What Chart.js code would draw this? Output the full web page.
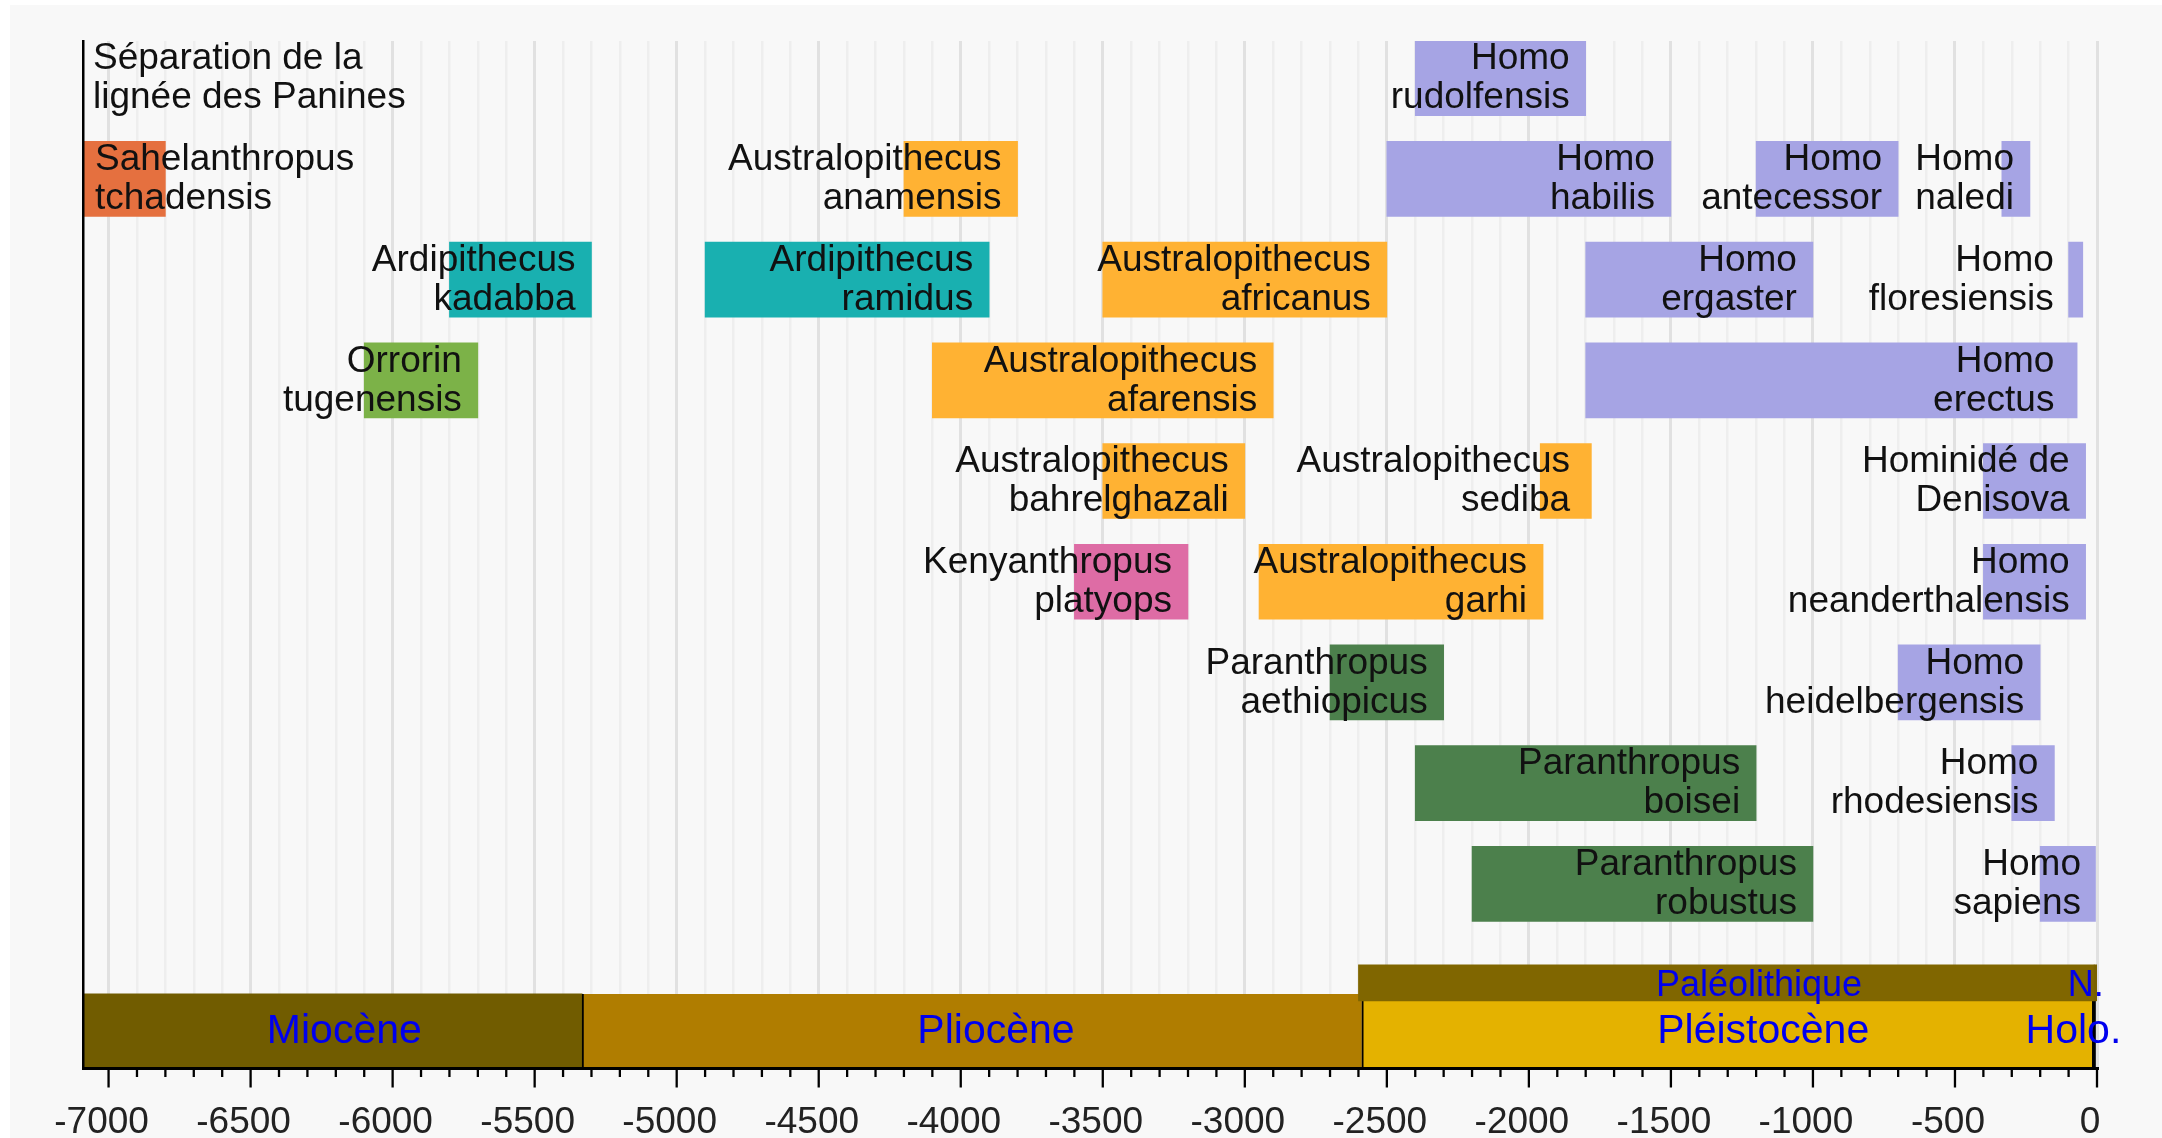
<!DOCTYPE html>
<html lang="fr">
<head>
<meta charset="utf-8">
<title>Chronologie des hominines</title>
<script src="https://cdn.jsdelivr.net/npm/chart.js@4.4.1/dist/chart.umd.min.js"></script>
<style>
  html, body { margin: 0; padding: 0; background: #fff; }
  canvas { display: block; }
</style>
</head>
<body>
<canvas id="frise" width="2162" height="1138"></canvas>
<script>
// ============================================================
// Frise des hominines — valeurs en milliers d'années (ka)
// ============================================================

// ===== Espèces : nom (2 lignes), ligne, début, fin, genre =====
const speciesNames = [
  ['Homo', 'rudolfensis'],
  ['Sahelanthropus', 'tchadensis'], ['Australopithecus', 'anamensis'], ['Homo', 'habilis'], ['Homo', 'antecessor'], ['Homo', 'naledi'],
  ['Ardipithecus', 'kadabba'], ['Ardipithecus', 'ramidus'], ['Australopithecus', 'africanus'], ['Homo', 'ergaster'], ['Homo', 'floresiensis'],
  ['Orrorin', 'tugenensis'], ['Australopithecus', 'afarensis'], ['Homo', 'erectus'],
  ['Australopithecus', 'bahrelghazali'], ['Australopithecus', 'sediba'], ['Hominidé de', 'Denisova'],
  ['Kenyanthropus', 'platyops'], ['Australopithecus', 'garhi'], ['Homo', 'neanderthalensis'],
  ['Paranthropus', 'aethiopicus'], ['Homo', 'heidelbergensis'],
  ['Paranthropus', 'boisei'], ['Homo', 'rhodesiensis'],
  ['Paranthropus', 'robustus'], ['Homo', 'sapiens']
];
const speciesRow = [0, 1, 1, 1, 1, 1, 2, 2, 2, 2, 2, 3, 3, 3, 4, 4, 4, 5, 5, 5, 6, 6, 7, 7, 8, 8];
const speciesStart = [-2400, -7090, -4200, -2500, -1200, -335, -5800, -4900, -3500, -1800, -100,
  -6100, -4100, -1800, -3500, -1960, -400, -3600, -2950, -400, -2700, -700, -2400, -300, -2200, -200];
const speciesEnd = [-1800, -6800, -3800, -1500, -700, -236, -5300, -3900, -2500, -1000, -50,
  -5700, -2900, -70, -3000, -1780, -40, -3200, -1950, -40, -2300, -200, -1200, -150, -1000, 0];
const speciesGenus = ['Homo', 'Sahelanthropus', 'Australopithecus', 'Homo', 'Homo', 'Homo',
  'Ardipithecus', 'Ardipithecus', 'Australopithecus', 'Homo', 'Homo',
  'Orrorin', 'Australopithecus', 'Homo', 'Australopithecus', 'Australopithecus', 'Homo',
  'Kenyanthropus', 'Australopithecus', 'Homo', 'Paranthropus', 'Homo', 'Paranthropus', 'Homo',
  'Paranthropus', 'Homo'];

// ===== Époques géologiques =====
const epochNames = ['Miocène', 'Pliocène', 'Pléistocène', 'Holo.'];
const epochStart = [-7090, -5333, -2588, -11.7];
const epochEnd = [-5333, -2588, -11.7, 0];

// ===== Périodes archéologiques =====
const archeoNames = ['Paléolithique', 'N.'];
const archeoStart = [-2600, -10];
const archeoEnd = [-10, 8];

// ===== Note en haut à gauche =====
const noteLines = ['Séparation de la', 'lignée des Panines'];

// ===== Axe : bornes et graduations =====
const axisMin = -7090;
const axisMax = 0;
const majorTicks = [-7000, -6500, -6000, -5500, -5000, -4500, -4000, -3500, -3000, -2500, -2000, -1500, -1000, -500, 0];
const minorStep = 100;

// ===== Styles =====
const GENUS_COLORS = {
  Sahelanthropus: '#E5703F', Ardipithecus: '#19B0B0', Orrorin: '#7CB248',
  Australopithecus: '#FFB233', Kenyanthropus: '#DE6CA5', Paranthropus: '#4C804C', Homo: '#A6A4E4'
};
const EPOCH_COLORS = ['#715C00', '#B07D00', '#E4B200', '#000000'];
const ARCHEO_COLORS = ['#806600', '#7A6100'];
const FONT = '"Liberation Sans", Arial, sans-serif';

// Pistes (axe y en unités de ligne, ligne 0 en haut)
const Y_MIN = -0.37, Y_MAX = 9.829;
const EPOCH_Y = 9.461, ARCHEO_Y = 8.983;

// Placement des étiquettes (hors données)
const leftLabels = [1];                         // Sahelanthropus : aligné à gauche
const labelEndOverride = { 10: -152, 13: -150, 15: -1855 };
const geoLabelX = { 'Miocène': -6170, 'Pliocène': -3876, 'Pléistocène': -1175, 'Holo.': -83, 'Paléolithique': -1190, 'N.': -40 };

const isMajor = v => majorTicks.includes(Math.round(v));

// graduations : toutes les 100 ka entre -7000 et 0
const tickValues = [];
for (let v = majorTicks[0]; v <= axisMax; v += minorStep) tickValues.push(v);

// ============================================================
// Plugins
// ============================================================
const fond = {
  id: 'fond',
  beforeDraw(chart) {
    const { ctx, width, height } = chart;
    ctx.save();
    ctx.fillStyle = '#fff';
    ctx.fillRect(0, 0, width, height);
    ctx.fillStyle = '#F8F8F8';
    ctx.fillRect(10, 5, width - 10, height - 5);
    ctx.restore();
  }
};

const etiquettes = {
  id: 'etiquettes',
  afterDatasetsDraw(chart) {
    const { ctx, scales: { x, y } } = chart;
    ctx.save();
    ctx.textBaseline = 'middle';

    // noms d'espèces
    ctx.fillStyle = '#111';
    ctx.font = '37px ' + FONT;
    const twoLines = (lines, tx, cy) => {
      ctx.fillText(lines[0], tx, cy - 19.5);
      ctx.fillText(lines[1], tx, cy + 19.5);
    };
    speciesNames.forEach((lines, i) => {
      const cy = y.getPixelForValue(speciesRow[i]) + 0.5;
      if (leftLabels.includes(i)) {
        ctx.textAlign = 'left';
        twoLines(lines, x.getPixelForValue(speciesStart[i]) + 12, cy);
      } else {
        ctx.textAlign = 'right';
        const tx = labelEndOverride[i] !== undefined
          ? x.getPixelForValue(labelEndOverride[i])
          : x.getPixelForValue(speciesEnd[i]) - 16;
        twoLines(lines, tx, cy);
      }
    });
    ctx.textAlign = 'left';
    twoLines(noteLines, x.getPixelForValue(axisMin) + 10, y.getPixelForValue(0) + 0.5);

    // époques / périodes
    ctx.fillStyle = '#0000EE';
    ctx.textAlign = 'center';
    ctx.font = '41px ' + FONT;
    epochNames.forEach(n => ctx.fillText(n, x.getPixelForValue(geoLabelX[n]), y.getPixelForValue(EPOCH_Y) + 1));
    ctx.font = '36px ' + FONT;
    archeoNames.forEach(n => ctx.fillText(n, x.getPixelForValue(geoLabelX[n]), y.getPixelForValue(ARCHEO_Y) + 3));
    ctx.restore();
  }
};

const graduations = {
  id: 'graduations',
  afterDraw(chart) {
    const { ctx, chartArea, scales: { x } } = chart;
    ctx.save();
    ctx.strokeStyle = '#000';
    ctx.lineWidth = 2.3;
    x.ticks.forEach(t => {
      const px = x.getPixelForValue(t.value);
      const len = isMajor(t.value) ? 19.5 : 9;
      ctx.beginPath();
      ctx.moveTo(px, chartArea.bottom);
      ctx.lineTo(px, chartArea.bottom + len);
      ctx.stroke();
    });
    ctx.restore();
  }
};

// ============================================================
// Graphique
// ============================================================
const barBase = { stack: 'frise', borderSkipped: false };

new Chart(document.getElementById('frise'), {
  type: 'bar',
  data: {
    datasets: [
      {
        ...barBase, label: 'Espèces', order: 0, barThickness: 75,
        data: speciesStart.map((s, i) => ({ x: [s, speciesEnd[i]], y: speciesRow[i] })),
        backgroundColor: speciesGenus.map(g => GENUS_COLORS[g])
      },
      {
        ...barBase, label: 'Périodes', order: 1, barThickness: 36,
        data: archeoStart.map((s, i) => ({ x: [s, archeoEnd[i]], y: ARCHEO_Y })),
        backgroundColor: ARCHEO_COLORS
      },
      {
        ...barBase, label: 'Époques', order: 2, barThickness: 74,
        data: epochStart.map((s, i) => ({ x: [s, epochEnd[i]], y: EPOCH_Y })),
        backgroundColor: EPOCH_COLORS,
        borderColor: '#000',
        borderWidth: [{ left: 0, right: 0, top: 0, bottom: 0 }, { left: 2, right: 0, top: 0, bottom: 0 },
          { left: 2, right: 2, top: 0, bottom: 0 }, { left: 0, right: 0, top: 0, bottom: 0 }]
      }
    ]
  },
  options: {
    indexAxis: 'y',
    responsive: false,
    animation: false,
    layout: { padding: { left: 83, right: 65, top: 41, bottom: 0 } },
    plugins: { legend: { display: false }, tooltip: { enabled: false } },
    scales: {
      x: {
        type: 'linear', position: 'bottom', min: axisMin, max: axisMax, stacked: false, offset: false,
        afterBuildTicks: s => { s.ticks = tickValues.map(v => ({ value: v })); },
        afterFit: s => { s.height = 70; },
        border: { display: true, color: '#000', width: 3, z: 1 },
        grid: {
          drawTicks: false, offset: false,
          color: c => (c.tick && isMajor(c.tick.value) ? '#E1E1E1' : '#EEEEEE'),
          lineWidth: c => (c.tick && isMajor(c.tick.value) ? 3 : 2.5)
        },
        ticks: {
          autoSkip: false, maxRotation: 0, minRotation: 0,
          padding: 33, labelOffset: -7, color: '#222', font: { family: FONT, size: 37 },
          callback: v => (isMajor(v) ? String(Math.round(v)) : '')
        }
      },
      y: {
        type: 'linear', position: 'left', reverse: true, min: Y_MIN, max: Y_MAX, offset: false,
        ticks: { display: false },
        grid: { display: false, drawTicks: false, offset: false },
        border: { display: true, color: '#000', width: 2.5, z: 1 }
      }
    }
  },
  plugins: [fond, etiquettes, graduations]
});
</script>
</body>
</html>
